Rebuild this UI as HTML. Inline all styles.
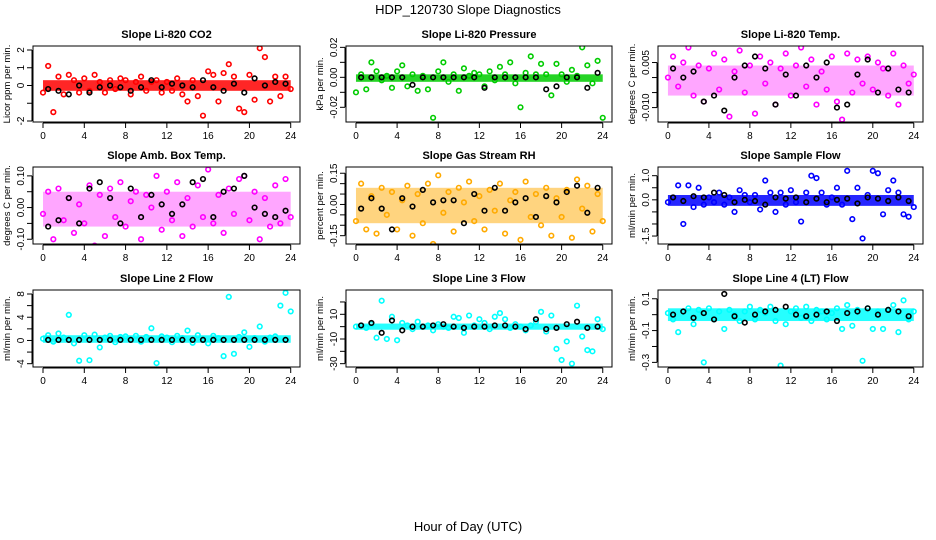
<!DOCTYPE html>
<html><head><meta charset="utf-8"><style>
html,body{margin:0;padding:0;background:#fff;}
svg{display:block;font-family:"Liberation Sans",sans-serif;}
</style></head>
<body>
<svg id="chart" width="936" height="540" viewBox="0 0 936 540">
<text x="468" y="14" text-anchor="middle" font-size="13">HDP_120730  Slope Diagnostics</text>
<text x="468" y="531" text-anchor="middle" font-size="13">Hour of Day (UTC)</text>
</svg>
<script>
// ---- data ----
const panelTitles = ["Slope Li-820 CO2","Slope Li-820 Pressure","Slope Li-820 Temp.","Slope Amb. Box Temp.","Slope Gas Stream RH","Slope Sample Flow","Slope Line 2 Flow","Slope Line 3 Flow","Slope Line 4 (LT) Flow"];
const yTitles = ["Licor ppm per min.","kPa per min.","degrees C per min.","degrees C per min.","percent per min.","ml/min per min.","ml/min per min.","ml/min per min.","ml/min per min."];
const xTicks = [0,4,8,12,16,20,24];
const yTicks = [[2,1,0,-1,-2],[0.02,0.01,0,-0.01,-0.02],[0.005,0,-0.005,-0.010],[0.10,0.05,0,-0.05,-0.10],[0.15,0.10,0.05,0,-0.05,-0.10,-0.15],[1.0,0.5,0,-0.5,-1.0,-1.5],[8,6,4,2,0,-2,-4],[20,10,0,-10,-20,-30],[0.1,0,-0.1,-0.2,-0.3]];
const yTickLabels = [["2","1","0","","-2"],["0.02","","0.00","","-0.02"],["0.005","","","-0.010"],["0.10","","0.00","","-0.10"],["0.15","","","0.00","","","-0.15"],["1.0","","0.0","","","-1.5"],["8","","4","","0","","-4"],["","10","","-10","","-30"],["0.1","","-0.1","","-0.3"]];
const yDomains = [[-2.056,2.225],[-0.0298,0.0209],[-0.0148,0.0105],[-0.115,0.128],[-0.19,0.18],[-1.83,1.36],[-4.57,8.69],[-32.7,29.7],[-0.329,0.155]];
const colors = ["#ff0000","#00cc00","#ff00ff","#ff00ff","#ffaa00","#0000ff","#00ffff","#00ffff","#00ffff"];
const bandLo = [-0.3,-0.003,-0.006,-0.06,-0.09,-0.25,-0.4,-2.5,-0.04];
const bandHi = [0.3,0.002,0.004,0.05,0.08,0.2,0.9,2.5,0.04];
const bandOpacity = [0.85,0.85,0.35,0.35,0.5,0.85,0.85,0.85,0.85];
const co2Vals = [-0.4,1.1,-1.5,0.5,-0.5,0.6,0.3,-0.4,0.4,-0.3,0.6,0.2,-0.4,0.3,-0.2,0.4,0.3,-0.5,0.2,0.5,-0.3,0.2,0.3,-0.4,0.2,-0.3,0.4,-0.5,-0.9,0.3,-0.6,-1.7,0.8,0.6,-0.9,0.7,1.2,0.5,-1.3,-1.5,0.6,-0.8,2.1,1.6,-0.9,0.5,-0.6,0.5,-0.2];
const co2Black = [-0.2,-0.3,-0.5,0,-0.4,-0.1,0,-0.1,-0.3,-0.1,0.3,-0.1,0.1,0,-0.1,0.3,-0.1,-0.3,0.1,-0.4,0.4,0,0.2,0.1];
const presVals = [-0.010,0.002,-0.008,0.010,0.004,-0.002,0.001,-0.007,0.004,0.008,-0.006,0.002,-0.009,0.001,-0.008,-0.027,0.004,0.010,-0.003,0.002,-0.009,0.006,0.001,0.003,0.002,-0.006,0.004,-0.002,0.007,0.002,0.010,-0.004,-0.020,0.003,0.014,0.002,0.009,0.002,-0.012,0.009,0.002,-0.003,0.005,0.001,0.020,0.008,-0.004,0.011,-0.027];
const presBlack = [0,0,0,0,0,-0.005,0,0,0,0,0,0,-0.007,0,0,0,0,0,-0.008,-0.006,0,0,-0.007,0.003];
const tempVals = [0.000,0.007,-0.003,0.005,0.010,-0.006,0.004,-0.008,0.003,0.008,-0.004,0.006,-0.013,0.002,0.009,-0.005,0.004,-0.012,0.007,-0.002,0.005,-0.009,0.003,0.008,-0.006,0.004,0.010,-0.003,0.006,-0.009,0.002,-0.004,0.007,-0.008,-0.014,0.008,-0.005,0.006,-0.002,0.007,-0.004,0.005,0.003,-0.006,0.008,-0.009,0.004,-0.002,0.001];
const tempBlack = [0.003,0.000,0.002,-0.008,-0.006,-0.011,0.000,0.004,0.007,0.003,-0.009,0.001,-0.006,0.004,0.000,0.005,-0.010,-0.009,0.001,0.006,-0.005,0.003,-0.004,-0.005];
const ambVals = [-0.02,0.05,-0.10,0.06,-0.04,0.03,-0.08,0.01,-0.05,0.07,-0.12,0.04,-0.09,0.06,-0.03,0.08,-0.06,0.02,0.05,-0.10,0.04,0.00,0.10,-0.07,0.05,-0.04,0.08,-0.09,0.03,-0.06,0.07,-0.03,0.12,-0.05,0.04,-0.08,0.06,-0.02,0.09,0.10,-0.04,0.05,-0.10,0.03,-0.06,0.07,-0.05,0.09,-0.03];
const ambBlack = [-0.06,-0.04,0.03,-0.05,0.06,0.08,0.03,-0.05,0.06,-0.03,0.04,0.01,-0.02,0.01,0.08,0.09,-0.03,0.05,0.06,0.10,0.00,-0.02,-0.03,-0.01];
const rhVals = [-0.08,0.10,-0.12,0.04,-0.14,0.08,-0.05,0.06,-0.12,0.02,0.09,-0.15,0.05,-0.09,0.10,-0.19,0.14,-0.04,0.06,-0.13,0.08,0.01,0.11,-0.08,0.04,-0.12,0.07,-0.03,0.10,-0.14,0.02,0.06,-0.17,0.11,-0.06,0.05,-0.10,0.08,-0.15,0.03,-0.06,0.07,-0.16,0.12,-0.02,0.09,-0.13,0.05,-0.08];
const rhBlack = [-0.02,0.03,-0.02,-0.12,0.03,-0.01,0.07,0.01,0.02,0.02,-0.09,0.05,-0.03,0.08,-0.03,0.01,0.03,-0.06,0.04,0.01,0.06,0.09,-0.04,0.08];
const sfVals = [-0.1,0.1,0.6,-1.0,0.6,-0.3,0.5,-0.2,0.1,-0.1,0.3,-0.2,0.1,-0.5,0.4,0.2,-0.1,0.2,-0.4,0.8,0.3,-0.5,0.3,-0.2,0.4,-0.1,-0.9,0.3,1.0,0.9,0.3,-0.2,0.1,0.5,-0.2,1.2,-0.8,0.5,-1.6,0.2,1.2,1.1,-0.6,0.4,0.8,0.3,-0.6,-0.7,-0.3];
const sfBlack = [0.1,-0.05,0.15,0.1,0.3,0.2,-0.1,0.0,-0.05,-0.2,0.1,0.05,0.1,-0.1,0.05,-0.1,0.0,0.05,-0.15,0.1,0.05,-0.05,0.1,-0.05];
const l2Vals = [0.3,0.9,-0.2,1.2,0.5,4.4,-0.5,-3.5,0.9,-3.4,1.0,-1.2,0.5,0.8,-0.3,0.6,0.7,0.2,0.8,-0.2,0.6,2.1,-3.9,0.7,0.5,-0.3,0.8,0.4,1.7,-0.4,0.9,0.2,-0.5,0.8,0.4,-2.7,7.5,-2.3,0.6,1.4,-1.1,0.4,2.4,-0.2,0.5,0.7,6.0,8.2,5.0];
const l2Black = [0.1,0.1,0.1,0.1,0.1,0.1,0.1,0.1,0.1,0.1,0.1,0.1,0.1,0.1,0.1,0.1,0.1,0.1,0.1,0.1,0.1,0.1,0.1,0.1];
const l3Vals = [0,1,-1,2,-9,21,-10,8,-11,3,1,-2,4,0,1,-3,2,0,-1,8,7,-5,9,1,6,3,-2,8,11,6,-1,2,0,-3,1,4,12,-4,9,-18,-27,-12,-30,17,-8,-19,-20,6,-2];
const l3Black = [1,3,-5,5,-3,0,0,1,2,0,-1,0,0,1,1,0,-2,6,-2,-1,2,4,-1,0];
const l4Vals = [0.01,-0.03,-0.11,0.02,0.04,-0.06,0.03,-0.30,0.04,-0.03,0.02,-0.09,0.03,0.00,-0.04,0.02,0.05,-0.03,0.03,0.01,0.05,-0.04,-0.32,-0.06,0.02,0.04,-0.02,0.05,-0.04,0.03,0.02,-0.03,0.01,0.04,-0.09,0.06,-0.07,0.03,-0.29,0.04,-0.09,0.02,-0.09,0.03,0.06,-0.11,0.09,-0.03,0.02];
const l4Black = [0.00,0.02,-0.02,0.01,-0.03,0.13,-0.01,-0.05,0.00,0.02,0.03,0.05,0.00,-0.01,0.00,0.02,-0.04,0.01,0.02,0.04,0.00,0.03,0.02,-0.01];
const colorSeries = [co2Vals,presVals,tempVals,ambVals,rhVals,sfVals,l2Vals,l3Vals,l4Vals];
const blackSeries = [co2Black,presBlack,tempBlack,ambBlack,rhBlack,sfBlack,l2Black,l3Black,l4Black];

// ---- layout ----
const colL = [33,346,658], colR = [300,612,923];
const rowT = [46,167,290], rowB = [122,244,367];
const xDom = [-0.97,24.9];
const NS = "http://www.w3.org/2000/svg";
const svg = document.getElementById("chart");
function mk(tag, attrs, parent){const e=document.createElementNS(NS,tag);for(const k in attrs)e.setAttribute(k,attrs[k]);(parent||svg).appendChild(e);return e;}

for(let p=0;p<9;p++){
  const L=colL[p%3],R=colR[p%3],T=rowT[Math.floor(p/3)],B=rowB[Math.floor(p/3)];
  const xs=v=>L+(v-xDom[0])/(xDom[1]-xDom[0])*(R-L);
  const ys=v=>B-(v-yDomains[p][0])/(yDomains[p][1]-yDomains[p][0])*(B-T);
  const g=mk("g",{});
  
  
  const clipId="c"+p;
  const cp=mk("clipPath",{id:clipId},g);mk("rect",{x:L,y:T,width:R-L,height:B-T},cp);
  const t=mk("text",{x:(L+R)/2,y:T-8,"text-anchor":"middle","font-size":"11","font-weight":"bold"},g);t.textContent=panelTitles[p];
  
  
  const pts=mk("g",{"clip-path":"url(#"+clipId+")"},g);
  const band=mk("rect",{x:xs(0),width:xs(24)-xs(0),y:ys(bandHi[p]),height:ys(bandLo[p])-ys(bandHi[p]),fill:colors[p],opacity:bandOpacity[p]},pts);
  
  
  const cv=colorSeries[p];
  cv.forEach((v,i)=>{
    const c=mk("circle",{cx:xs(i*24/(cv.length-1)),cy:ys(v),r:2.3,fill:"none",stroke:colors[p],"stroke-width":1.6},pts);
    
    
  });
  const bv=blackSeries[p];
  bv.forEach((v,i)=>{
    const c=mk("circle",{cx:xs(i+0.5),cy:ys(v),r:2.3,fill:"none",stroke:"#000","stroke-width":1.6},pts);
    
    
  });
  const box=mk("rect",{x:L,y:T,width:R-L,height:B-T,fill:"none",stroke:"#000","stroke-width":1},g);
  
  
  mk("line",{x1:xs(0),x2:xs(24),y1:B+1,y2:B+1,stroke:"#000"},g);
  xTicks.forEach(v=>{
    mk("line",{x1:xs(v),x2:xs(v),y1:B+1,y2:B+6,stroke:"#000"},g);
    const tx=mk("text",{x:xs(v),y:B+17,"text-anchor":"middle","font-size":"10"},g);tx.textContent=v;
    
    
  });
  const yt=yTicks[p];
  mk("line",{x1:L-1,x2:L-1,y1:ys(yt[0]),y2:ys(yt[yt.length-1]),stroke:"#000"},g);
  yt.forEach((v,i)=>{
    mk("line",{x1:L-6,x2:L-1,y1:ys(v),y2:ys(v),stroke:"#000"},g);
    if(yTickLabels[p][i]){
      const ty=mk("text",{x:L-9,y:ys(v),"text-anchor":"middle","font-size":"10",transform:"rotate(-90 "+(L-9)+" "+ys(v)+")"},g);
      ty.textContent=yTickLabels[p][i];
      
      
    }
  });
  const ay=mk("text",{x:L-23,y:(T+B)/2,"text-anchor":"middle","font-size":"9.5",transform:"rotate(-90 "+(L-23)+" "+(T+B)/2+")"},g);
  ay.textContent=yTitles[p];
  
  
}
</script>
</body></html>
